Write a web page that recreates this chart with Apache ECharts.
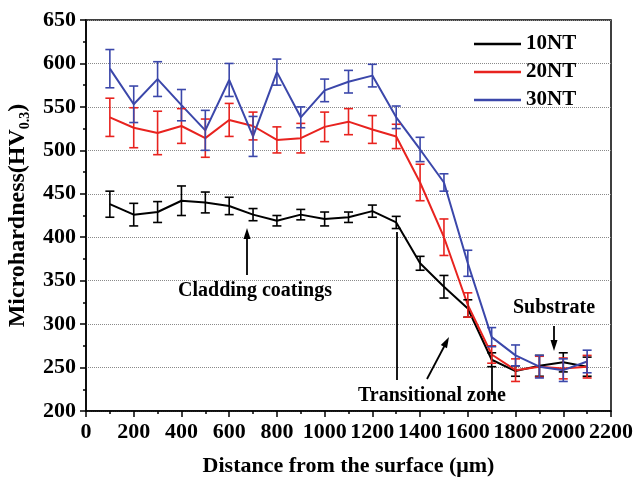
<!DOCTYPE html>
<html>
<head>
<meta charset="utf-8">
<script src="https://cdn.jsdelivr.net/npm/echarts@6/dist/echarts.min.js"></script>
<style>
  html, body { margin: 0; padding: 0; background: #fff; }
  #chart { width: 633px; height: 479px; }
</style>
</head>
<body>
<div id="chart"></div>
<script>
// distance from surface (um)
var distance = [100, 200, 300, 400, 500, 600, 700, 800, 900, 1000, 1100, 1200, 1300, 1400, 1500, 1600, 1700, 1800, 1900, 2000, 2100];

// microhardness means and error bars
var hv10 = [438, 426, 429, 442, 440, 436, 426, 419, 426, 421, 423, 430, 417, 370, 343, 318, 259, 246, 252, 256, 251];
var err10 = [15, 13, 12, 17, 12, 10, 7, 6, 6, 8, 6, 7, 7, 8, 13, 10, 8, 6, 12, 11, 11];
var hv20 = [538, 526, 520, 528, 514, 535, 528, 512, 514, 527, 533, 524, 516, 463, 400, 322, 265, 247, 251, 249, 251];
var err20 = [22, 23, 25, 20, 22, 19, 16, 15, 17, 17, 15, 16, 14, 21, 21, 14, 10, 13, 12, 12, 13];
var hv30 = [594, 553, 582, 552, 523, 581, 516, 590, 538, 569, 579, 586, 538, 501, 463, 370, 285, 264, 251, 247, 257];
var err30 = [22, 21, 20, 18, 23, 19, 23, 15, 12, 13, 13, 13, 13, 14, 10, 15, 11, 12, 13, 13, 13];

var names = ['10NT', '20NT', '30NT'];
var colors = ['#000000', '#e8231f', '#3b47aa'];

var FONT = "'Liberation Serif', 'Times New Roman', serif";

function pairs(ys) {
  return distance.map(function (x, i) { return [x, ys[i]]; });
}
function errData(ys, es) {
  return distance.map(function (x, i) { return [x, ys[i], es[i]]; });
}

function errorBar(color) {
  return function (params, api) {
    var x = api.value(0), y = api.value(1), e = api.value(2);
    var top = api.coord([x, y + e]);
    var bot = api.coord([x, y - e]);
    var w = 4.5;
    var st = { stroke: color, lineWidth: 1.6 };
    return {
      type: 'group',
      children: [
        { type: 'line', shape: { x1: top[0], y1: top[1], x2: bot[0], y2: bot[1] }, style: st },
        { type: 'line', shape: { x1: top[0] - w, y1: top[1], x2: top[0] + w, y2: top[1] }, style: st },
        { type: 'line', shape: { x1: bot[0] - w, y1: bot[1], x2: bot[0] + w, y2: bot[1] }, style: st }
      ]
    };
  };
}

var hvs = [hv10, hv20, hv30];
var errs = [err10, err20, err30];
var series = [];
for (var i = 0; i < 3; i++) {
  series.push({
    name: names[i],
    type: 'line',
    data: pairs(hvs[i]),
    symbol: 'none',
    lineStyle: { color: colors[i], width: 2 },
    itemStyle: { color: colors[i] },
    z: 3
  });
  series.push({
    name: 'err' + names[i],
    type: 'custom',
    data: errData(hvs[i], errs[i]),
    encode: { x: 0, y: 1 },
    renderItem: errorBar(colors[i]),
    z: 4
  });
}

function arrowHead(tip, from, len, half) {
  var dx = tip[0] - from[0], dy = tip[1] - from[1];
  var d = Math.sqrt(dx * dx + dy * dy);
  var ux = dx / d, uy = dy / d;
  var bx = tip[0] - ux * len, by = tip[1] - uy * len;
  return {
    type: 'polygon',
    shape: { points: [tip, [bx - uy * half, by + ux * half], [bx + uy * half, by - ux * half]] },
    style: { fill: '#000' },
    z: 10
  };
}
function seg(p1, p2) {
  return {
    type: 'line',
    shape: { x1: p1[0], y1: p1[1], x2: p2[0], y2: p2[1] },
    style: { stroke: '#000', lineWidth: 1.8 },
    z: 10
  };
}
function label(txt, x, y) {
  return {
    type: 'text',
    style: { text: txt, x: x, y: y, font: 'bold 20px ' + FONT, fill: '#000', textAlign: 'center', textVerticalAlign: 'middle' },
    z: 10
  };
}

var chart = echarts.init(document.getElementById('chart'));
chart.setOption({
  animation: false,
  backgroundColor: '#fff',
  grid: {
    left: 86, right: 22, top: 20, bottom: 68,
    outerBoundsMode: 'none',
    show: true, borderColor: '#000', borderWidth: 1.5, backgroundColor: 'transparent'
  },
  legend: {
    data: names,
    orient: 'vertical',
    left: 469,
    top: 28,
    icon: 'rect',
    itemWidth: 47,
    itemHeight: 2.5,
    itemGap: 6,
    textStyle: { fontFamily: FONT, fontWeight: 'bold', fontSize: 21, color: '#000', lineHeight: 22 }
  },
  xAxis: {
    type: 'value',
    min: 0,
    max: 2200,
    interval: 200,
    name: 'Distance from the surface (\u03bcm)',
    nameLocation: 'middle',
    nameGap: 44,
    nameTextStyle: { fontFamily: FONT, fontWeight: 'bold', fontSize: 22, color: '#000' },
    axisLine: { lineStyle: { color: '#000', width: 1.5 } },
    axisTick: { inside: false, length: 6, lineStyle: { color: '#000', width: 1.5 } },
    minorTick: { show: true, splitNumber: 2, length: 3, lineStyle: { color: '#000', width: 1.5 } },
    axisLabel: {
      fontFamily: FONT, fontWeight: 'bold', fontSize: 22, color: '#000', margin: 10,
      showMinLabel: true, showMaxLabel: true, hideOverlap: false,
      formatter: function (v) { return String(v); }
    },
    splitLine: { show: false }
  },
  yAxis: {
    type: 'value',
    min: 200,
    max: 650,
    interval: 50,
    name: '{a|Microhardness(HV}{s|0.3}{a|)}',
    nameLocation: 'middle',
    nameRotate: 90,
    nameGap: 52,
    nameTextStyle: {
      rich: {
        a: { fontFamily: FONT, fontWeight: 'bold', fontSize: 24, color: '#000', lineHeight: 28 },
        s: { fontFamily: FONT, fontWeight: 'bold', fontSize: 14, color: '#000', lineHeight: 10, verticalAlign: 'bottom' }
      }
    },
    axisLine: { lineStyle: { color: '#000', width: 1.5 } },
    axisTick: { inside: false, length: 6, lineStyle: { color: '#000', width: 1.5 } },
    minorTick: { show: true, splitNumber: 2, length: 3, lineStyle: { color: '#000', width: 1.5 } },
    axisLabel: { fontFamily: FONT, fontWeight: 'bold', fontSize: 22, color: '#000', margin: 10 },
    splitLine: { show: true, lineStyle: { color: '#8a8a8a', type: 'dotted', width: 1 } }
  },
  series: series,
  graphic: [
    seg([247, 275], [247, 236]),
    arrowHead([247, 228], [247, 275], 11, 3.5),
    label('Cladding coatings', 255, 291),
    seg([397, 232], [397, 380]),
    seg([492, 367], [492, 395]),
    seg([427, 379], [446, 343]),
    arrowHead([449, 337], [427, 379], 11, 3.5),
    label('Transitional zone', 432, 396),
    label('Substrate', 554, 308),
    seg([554, 326], [554, 343]),
    arrowHead([554, 351], [554, 326], 11, 3.5)
  ]
});
</script>
</body>
</html>
